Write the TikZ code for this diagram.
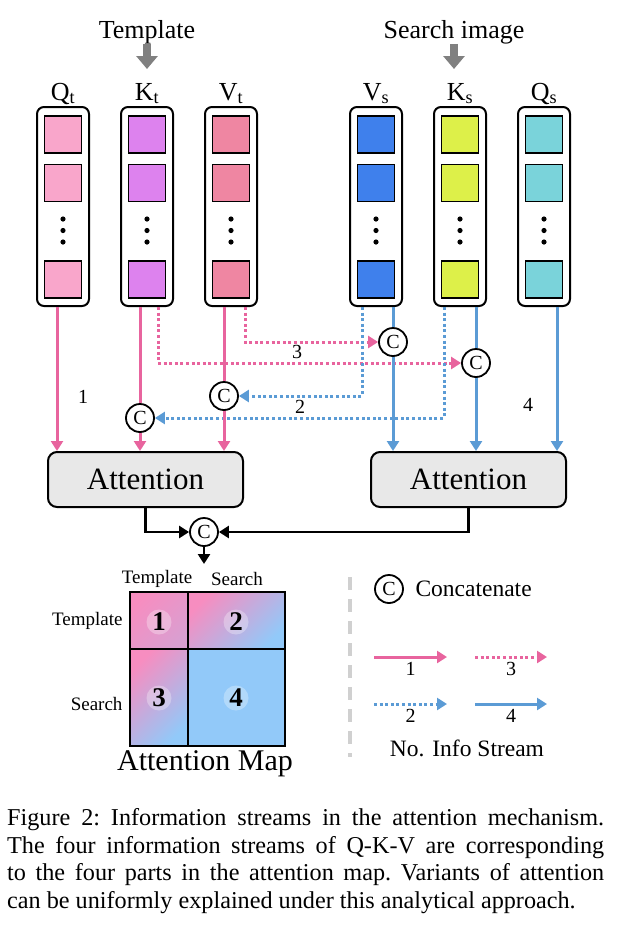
\documentclass[tikz,border=0pt]{standalone}
\usepackage{fontspec}
\setmainfont{Liberation Serif}
\usetikzlibrary{arrows.meta,positioning}
\definecolor{qtcol}{HTML}{F9A6CB}
\definecolor{ktcol}{HTML}{DD82EE}
\definecolor{vtcol}{HTML}{EF86A2}
\definecolor{vscol}{HTML}{3F80EC}
\definecolor{kscol}{HTML}{DDF049}
\definecolor{qscol}{HTML}{7AD3DA}
\definecolor{pinkln}{HTML}{E8649E}
\definecolor{blueln}{HTML}{5B9BD5}
\definecolor{attgray}{HTML}{E8E8E8}
\definecolor{arrgray}{HTML}{808080}
\definecolor{seplight}{HTML}{D0D0D0}
\definecolor{mappink}{HTML}{F78DC0}
\definecolor{mapblue}{HTML}{92C9F9}
\newcommand{\colvdots}[1]{\fill (#1,219) circle (2.6) (#1,230.5) circle (2.6) (#1,242) circle (2.6);}

\begin{document}
\begin{tikzpicture}[x=1pt,y=-1pt,
    colbox/.style={draw,line width=2pt,rounded corners=7pt,fill=white,minimum width=52pt,minimum height=199pt,inner sep=0pt},
    sq/.style={draw,line width=1.5pt,minimum size=37pt,inner sep=0pt},
    collab/.style={inner sep=0pt,anchor=base,font=\fontsize{26}{28}\selectfont},
    toplab/.style={inner sep=0pt,anchor=base,font=\fontsize{26}{28}\selectfont},
    grayarr/.style={draw=arrgray,line width=8pt,-{Triangle[width=21pt,length=13pt]}},
    cat/.style={circle,draw,line width=1.8pt,fill=white,inner sep=0pt,minimum size=28pt,font=\fontsize{20}{20}\selectfont},
    attbox/.style={draw,line width=2pt,rounded corners=9pt,fill=attgray,minimum width=195pt,minimum height=55pt,font=\fontsize{31}{31}\selectfont},
    pinkline/.style={draw=pinkln,line width=3pt},
    pinkarr/.style={pinkline,-{Triangle[width=12pt,length=10pt]}},
    pinkdot/.style={pinkarr,dash pattern=on 3pt off 2.6pt},
    blueline/.style={draw=blueln,line width=3pt},
    bluearr/.style={blueline,-{Triangle[width=12pt,length=10pt]}},
    bluedot/.style={bluearr,dash pattern=on 3pt off 2.6pt},
    blkarr/.style={draw,line width=2.5pt,-{Triangle[width=12pt,length=10pt]}},
    num/.style={font=\fontsize{20}{20}\selectfont},
    mcell/.style={draw,line width=2pt,inner sep=0pt},
    mnum/.style={circle,fill=white,fill opacity=0.3,text opacity=1,inner sep=0pt,minimum size=25pt,font=\bfseries\fontsize{27}{27}\selectfont},
    maplab/.style={font=\fontsize{19}{19}\selectfont},
    leg/.style={font=\fontsize{23.5}{24}\selectfont}]
    \useasboundingbox (0,0) rectangle (627,930);

    % inputs
    \node[toplab] (tpl) at (147,38) {Template};
    \node[toplab] (srch) at (454,38) {Search image};
    \coordinate (tplend) at (147,69);
    \coordinate (srchend) at (454,69);
    \draw[grayarr] (tpl.south) -- (tplend);
    \draw[grayarr] (srch.south) -- (srchend);

    % template tokens
    \node[collab] (qtl) at (63,100) {Q\textsubscript{t}};
    \node[colbox] (qt) at (63,206.5) {};
    \node[sq,fill=qtcol] (qt1) at (63,134.5) {};
    \node[sq,fill=qtcol] (qt2) at (63,183) {};
    \node[sq,fill=qtcol] (qt3) at (63,279.5) {};
    \colvdots{63}
    \node[collab] (ktl) at (147,100) {K\textsubscript{t}};
    \node[colbox] (kt) at (147,206.5) {};
    \node[sq,fill=ktcol] (kt1) at (147,134.5) {};
    \node[sq,fill=ktcol] (kt2) at (147,183) {};
    \node[sq,fill=ktcol] (kt3) at (147,279.5) {};
    \colvdots{147}
    \node[collab] (vtl) at (231,100) {V\textsubscript{t}};
    \node[colbox] (vt) at (231,206.5) {};
    \node[sq,fill=vtcol] (vt1) at (231,134.5) {};
    \node[sq,fill=vtcol] (vt2) at (231,183) {};
    \node[sq,fill=vtcol] (vt3) at (231,279.5) {};
    \colvdots{231}

    % search tokens
    \node[collab] (vsl) at (376,100) {V\textsubscript{s}};
    \node[colbox] (vs) at (376,206.5) {};
    \node[sq,fill=vscol] (vs1) at (376,134.5) {};
    \node[sq,fill=vscol] (vs2) at (376,183) {};
    \node[sq,fill=vscol] (vs3) at (376,279.5) {};
    \colvdots{376}
    \node[collab] (ksl) at (460,100) {K\textsubscript{s}};
    \node[colbox] (ks) at (460,206.5) {};
    \node[sq,fill=kscol] (ks1) at (460,134.5) {};
    \node[sq,fill=kscol] (ks2) at (460,183) {};
    \node[sq,fill=kscol] (ks3) at (460,279.5) {};
    \colvdots{460}
    \node[collab] (qsl) at (544,100) {Q\textsubscript{s}};
    \node[colbox] (qs) at (544,206.5) {};
    \node[sq,fill=qscol] (qs1) at (544,134.5) {};
    \node[sq,fill=qscol] (qs2) at (544,183) {};
    \node[sq,fill=qscol] (qs3) at (544,279.5) {};
    \colvdots{544}

    % attention blocks and concat points
    \node[attbox] (attl) at (145.5,479.5) {Attention};
    \node[attbox] (attr) at (468.5,479.5) {Attention};
    \node[cat] (ckt) at (140,418) {C};
    \node[cat] (cvt) at (224,396) {C};
    \node[cat] (cvs) at (393,342) {C};
    \node[cat] (cks) at (476,363) {C};

    % streams
    \draw[pinkdot] ([xshift=11pt]kt.south) |- (cks);
    \draw[pinkdot] ([xshift=14pt]vt.south) |- (cvs);
    \draw[bluedot] ([xshift=-14pt]vs.south) |- (cvt);
    \draw[bluedot] ([xshift=-16pt]ks.south) |- (ckt);
    \draw[pinkarr] ([xshift=-6pt]qt.south) -- ([xshift=-6pt]qt.south |- attl.north);
    \draw[pinkline] ([xshift=-7pt]kt.south) -- (ckt);
    \draw[pinkarr] (ckt) -- (ckt |- attl.north);
    \draw[pinkline] ([xshift=-7pt]vt.south) -- (cvt);
    \draw[pinkarr] (cvt) -- (cvt |- attl.north);
    \draw[blueline] ([xshift=17pt]vs.south) -- (cvs);
    \draw[bluearr] (cvs) -- (cvs |- attr.north);
    \draw[blueline] ([xshift=16pt]ks.south) -- (cks);
    \draw[bluearr] (cks) -- (cks |- attr.north);
    \draw[bluearr] ([xshift=13pt]qs.south) -- ([xshift=13pt]qs.south |- attr.north);
    \node[num] (n1) at (83,397) {1};
    \node[num] (n2) at (300,407) {2};
    \node[num] (n3) at (297,352) {3};
    \node[num] (n4) at (528,405) {4};

    % merge into the map
    \node[cat] (cat) at (204,532) {C};
    \draw[blkarr] (attl.south) |- (cat);
    \draw[blkarr] (attr.south) |- (cat);
    \coordinate (mapin) at (204,564);
    \draw[blkarr] (cat) -- (mapin);

    % attention map
    \node[mcell,minimum width=58pt,minimum height=57pt,top color=mappink,bottom color=mappink!70!mapblue,shading angle=45] (m1) at (159,620.5) {};
    \node[mcell,minimum width=97pt,minimum height=57pt,top color=mappink,bottom color=mapblue,shading angle=45] (m2) at (236.5,620.5) {};
    \node[mcell,minimum width=58pt,minimum height=97pt,top color=mappink,bottom color=mapblue,shading angle=45] (m3) at (159,697.5) {};
    \node[mcell,minimum width=97pt,minimum height=97pt,fill=mapblue] (m4) at (236.5,697.5) {};
    \node[mnum] (k1) at (159,622) {1};
    \node[mnum] (k2) at (236,622) {2};
    \node[mnum] (k3) at (159,698) {3};
    \node[mnum] (k4) at (236,698) {4};
    \node[maplab] (ct) at (157,579) {Template};
    \node[maplab] (cs) at (237,579) {Search};
    \node[maplab,anchor=east] (rt) at (126,621) {Template};
    \node[maplab,anchor=east] (rs) at (126,704) {Search};
    \node[font=\fontsize{30}{30}\selectfont] (mapt) at (205,764) {Attention Map};

    % legend
    \draw[seplight,line width=3.5pt,dash pattern=on 13pt off 9pt] (350,577) -- (350,757);
    \node[cat] (lcat) at (389,589) {C};
    \node[leg,anchor=west] (lcattxt) at (412,589) {Concatenate};
    \coordinate (l1a) at (374,657); \coordinate (l1b) at (447,657);
    \coordinate (l3a) at (475,657); \coordinate (l3b) at (547,657);
    \coordinate (l2a) at (374,704); \coordinate (l2b) at (447,704);
    \coordinate (l4a) at (475,704); \coordinate (l4b) at (547,704);
    \draw[pinkarr] (l1a) -- (l1b) node[num,midway,below=0pt] {1};
    \draw[pinkdot] (l3a) -- (l3b) node[num,midway,below=0pt] {3};
    \draw[bluedot] (l2a) -- (l2b) node[num,midway,below=0pt] {2};
    \draw[bluearr] (l4a) -- (l4b) node[num,midway,below=0pt] {4};
    \node[leg] (lstream) at (467,748) {No. Info Stream};

    % caption
    \node[anchor=north west,inner sep=0pt,text width=597pt,align=justify,
          font=\fontsize{24.2}{27.8}\selectfont\frenchspacing] (capt) at (7,808)
        {Figure 2: Information streams in the attention mechanism.\linebreak
         The four information streams of Q-K-V are corresponding\linebreak
         to the four parts in the attention map. Variants of attention\linebreak
         can be uniformly explained under this analytical approach.};
\end{tikzpicture}
\end{document}
